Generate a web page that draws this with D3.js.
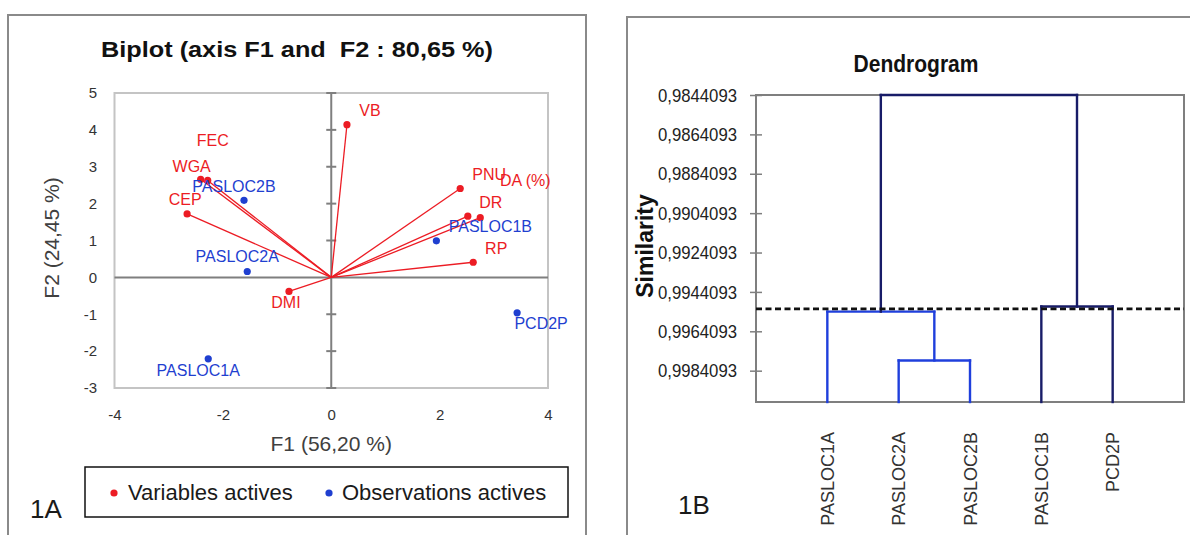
<!DOCTYPE html>
<html>
<head>
<meta charset="utf-8">
<script src="https://cdn.jsdelivr.net/npm/d3@7"></script>
<style>
  body { margin: 0; background: #fff; }
  svg { display: block; font-family: "Liberation Sans", Arial, sans-serif; }
</style>
</head>
<body>
<div id="chart"></div>
<script>
// ---- biplot data (F1 / F2 coordinates) ----
const varNames = ["VB", "FEC", "WGA", "CEP", "PNU", "DA (%)", "DR", "RP", "DMI"];
const varF1 = [0.29, -2.28, -2.41, -2.66, 2.38, 2.75, 2.52, 2.62, -0.78];
const varF2 = [4.14, 2.63, 2.66, 1.72, 2.41, 1.62, 1.66, 0.41, -0.38];

const obsNames = ["PASLOC1A", "PASLOC1B", "PASLOC2A", "PASLOC2B", "PCD2P"];
const obsF1 = [-2.27, 1.94, -1.55, -1.61, 3.43];
const obsF2 = [-2.21, 0.99, 0.16, 2.09, -0.96];

const xTicks = [-4, -2, 0, 2, 4];
const yTicks = [-3, -2, -1, 0, 1, 2, 3, 4, 5];

// ---- dendrogram data ----
const leaves = ["PASLOC1A", "PASLOC2A", "PASLOC2B", "PASLOC1B", "PCD2P"];
// node ids: 0-4 leaves, 5.. merges in order
const mergeLeft = [1, 0, 3, 6];
const mergeRight = [2, 5, 4, 7];
const mergeSimilarity = [0.99789, 0.99541, 0.99515, 0.9844093];
const mergeGroup = [0, 0, 1, 1];
const cutSimilarity = 0.99527;
const simTicks = [0.9844093, 0.9864093, 0.9884093, 0.9904093, 0.9924093, 0.9944093, 0.9964093, 0.9984093];

// label offsets (px from the dot centre), styling only
const varLabelOffset = [[23, -14], [5, -40], [-9, -13], [-2, -15], [29, -14], [45, -37], [23, -14], [23, -14], [-3, 11]];
const obsLabelOffset = [[-10, 11], [54, -15], [-10, -15], [-10, -14], [24, 10]];

const red = "#ec1c24", blue = "#1f3fd0";

const svg = d3.select("#chart").append("svg")
  .attr("width", 1190)
  .attr("height", 535);

// panel borders
svg.append("rect").attr("x", 8).attr("y", 15).attr("width", 578).attr("height", 540)
  .attr("fill", "none").attr("stroke", "#8a8a8a").attr("stroke-width", 2);
svg.append("rect").attr("x", 627).attr("y", 17).attr("width", 600).attr("height", 540)
  .attr("fill", "none").attr("stroke", "#8a8a8a").attr("stroke-width", 2);

// ================= 1A biplot =================
const x = d3.scaleLinear().domain([-4, 4]).range([114.5, 548]);
const y = d3.scaleLinear().domain([-3, 5]).range([388, 93]);

svg.append("text")
  .attr("x", 297).attr("y", 57)
  .attr("text-anchor", "middle")
  .attr("font-weight", "bold").attr("font-size", 22)
  .attr("textLength", 392).attr("lengthAdjust", "spacingAndGlyphs")
  .style("white-space", "pre")
  .attr("fill", "#111")
  .text("Biplot (axis F1 and  F2 : 80,65 %)");

svg.append("rect")
  .attr("x", x(-4)).attr("y", y(5))
  .attr("width", x(4) - x(-4)).attr("height", y(-3) - y(5))
  .attr("fill", "none").attr("stroke", "#c4c4c4").attr("stroke-width", 2);

// axes through origin
svg.append("line").attr("x1", x(-4)).attr("x2", x(4)).attr("y1", y(0)).attr("y2", y(0))
  .attr("stroke", "#7f7f7f").attr("stroke-width", 2);
svg.append("line").attr("x1", x(0)).attr("x2", x(0)).attr("y1", y(5)).attr("y2", y(-3))
  .attr("stroke", "#7f7f7f").attr("stroke-width", 2);
svg.selectAll(".ytickmark").data(yTicks.filter(d => d !== 0)).enter().append("line")
  .attr("x1", x(0) - 5).attr("x2", x(0) + 5)
  .attr("y1", d => y(d)).attr("y2", d => y(d))
  .attr("stroke", "#7f7f7f").attr("stroke-width", 2);

// tick labels
const yAxis = svg.append("g")
  .attr("transform", "translate(" + (x(-4) - 14.5) + ",0)")
  .call(d3.axisLeft(y).tickValues(yTicks).tickSize(0).tickFormat(d => String(d)));
yAxis.select(".domain").remove();
yAxis.selectAll("text").attr("font-size", 15).attr("fill", "#333").attr("font-family", "Liberation Sans, Arial");

const xAxis = svg.append("g")
  .attr("transform", "translate(0," + (y(-3) + 18) + ")")
  .call(d3.axisBottom(x).tickValues(xTicks).tickSize(0).tickFormat(d => String(d)));
xAxis.select(".domain").remove();
xAxis.selectAll("text").attr("font-size", 15).attr("fill", "#333").attr("font-family", "Liberation Sans, Arial");

svg.append("text")
  .attr("x", x(0)).attr("y", 451)
  .attr("text-anchor", "middle").attr("font-size", 21).attr("fill", "#404040")
  .text("F1 (56,20 %)");
svg.append("text")
  .attr("transform", "translate(59,238) rotate(-90)")
  .attr("text-anchor", "middle").attr("font-size", 21).attr("fill", "#404040")
  .text("F2 (24,45 %)");

// variable vectors
const vars = varNames.map((n, i) => ({ name: n, f1: varF1[i], f2: varF2[i], off: varLabelOffset[i] }));
const obs = obsNames.map((n, i) => ({ name: n, f1: obsF1[i], f2: obsF2[i], off: obsLabelOffset[i] }));

svg.selectAll(".vec").data(vars).enter().append("line")
  .attr("x1", x(0)).attr("y1", y(0))
  .attr("x2", d => x(d.f1)).attr("y2", d => y(d.f2))
  .attr("stroke", red).attr("stroke-width", 1.3);

svg.selectAll(".vdot").data(vars).enter().append("circle")
  .attr("cx", d => x(d.f1)).attr("cy", d => y(d.f2)).attr("r", 3.6)
  .attr("fill", red);

svg.selectAll(".odot").data(obs).enter().append("circle")
  .attr("cx", d => x(d.f1)).attr("cy", d => y(d.f2)).attr("r", 3.6)
  .attr("fill", blue);

svg.selectAll(".vlab").data(vars).enter().append("text")
  .attr("x", d => x(d.f1) + d.off[0]).attr("y", d => y(d.f2) + d.off[1])
  .attr("dy", "0.36em").attr("text-anchor", "middle")
  .attr("font-size", 16).attr("fill", red)
  .text(d => d.name);

svg.selectAll(".olab").data(obs).enter().append("text")
  .attr("x", d => x(d.f1) + d.off[0]).attr("y", d => y(d.f2) + d.off[1])
  .attr("dy", "0.36em").attr("text-anchor", "middle")
  .attr("font-size", 16).attr("fill", blue)
  .text(d => d.name);

// legend
svg.append("rect").attr("x", 85).attr("y", 467).attr("width", 483).attr("height", 50)
  .attr("fill", "#fff").attr("stroke", "#111").attr("stroke-width", 1.5);
svg.append("circle").attr("cx", 114).attr("cy", 493).attr("r", 3.6).attr("fill", red);
svg.append("text").attr("x", 128).attr("y", 500).attr("font-size", 22).attr("fill", "#1a1a1a")
  .text("Variables actives");
svg.append("circle").attr("cx", 329).attr("cy", 493).attr("r", 3.6).attr("fill", blue);
svg.append("text").attr("x", 342).attr("y", 500).attr("font-size", 22).attr("fill", "#1a1a1a")
  .text("Observations actives");

svg.append("text").attr("x", 30).attr("y", 518).attr("font-size", 26).attr("fill", "#1a1a1a")
  .text("1A");

// ================= 1B dendrogram =================
const dx = d3.scalePoint().domain(leaves).range([756, 1184]).padding(1);
const dy = d3.scaleLinear().domain([0.9844093, 1.0]).range([95, 402]);
const groupColor = ["#1f3fdc", "#181c68"];

svg.append("text")
  .attr("x", 916).attr("y", 72)
  .attr("text-anchor", "middle").attr("font-weight", "bold").attr("font-size", 23)
  .attr("textLength", 125).attr("lengthAdjust", "spacingAndGlyphs")
  .attr("fill", "#111")
  .text("Dendrogram");

svg.append("text")
  .attr("transform", "translate(653,246) rotate(-90)")
  .attr("text-anchor", "middle").attr("font-weight", "bold").attr("font-size", 23)
  .attr("fill", "#111")
  .text("Similarity");

svg.append("rect")
  .attr("x", 756).attr("y", dy(0.9844093))
  .attr("width", 1184 - 756).attr("height", dy(1.0) - dy(0.9844093))
  .attr("fill", "none").attr("stroke", "#7f7f7f").attr("stroke-width", 2);

const sAxis = svg.append("g")
  .attr("transform", "translate(756,0)")
  .call(d3.axisLeft(dy).tickValues(simTicks).tickSizeInner(6).tickSizeOuter(0)
    .tickPadding(13)
    .tickFormat(d => d3.format(".7f")(d).replace(".", ",")));
sAxis.select(".domain").remove();
sAxis.selectAll(".tick line").attr("x1", 6).attr("x2", -6).attr("stroke", "#7f7f7f").attr("stroke-width", 1.5);
sAxis.selectAll("text").attr("font-size", 19).attr("fill", "#222")
  .attr("font-family", "Liberation Sans, Arial")
  .attr("textLength", 79).attr("lengthAdjust", "spacingAndGlyphs");

// node positions
const nodeX = leaves.map(l => dx(l));
const nodeSim = leaves.map(() => 1.0);
mergeLeft.forEach((l, i) => {
  nodeX.push((nodeX[l] + nodeX[mergeRight[i]]) / 2);
  nodeSim.push(mergeSimilarity[i]);
});

const links = [];
mergeLeft.forEach((l, i) => {
  const r = mergeRight[i], s = mergeSimilarity[i];
  const c = groupColor[mergeGroup[i]];
  links.push({ x1: nodeX[l], y1: nodeSim[l], x2: nodeX[l], y2: s, c: c });
  links.push({ x1: nodeX[r], y1: nodeSim[r], x2: nodeX[r], y2: s, c: c });
  links.push({ x1: nodeX[l], y1: s, x2: nodeX[r], y2: s, c: c });
});

svg.selectAll(".dlink").data(links).enter().append("line")
  .attr("x1", d => d.x1).attr("x2", d => d.x2)
  .attr("y1", d => dy(d.y1)).attr("y2", d => dy(d.y2))
  .attr("stroke", d => d.c).attr("stroke-width", 2.4)
  .attr("stroke-linecap", "square");

svg.append("line")
  .attr("x1", 756).attr("x2", 1184)
  .attr("y1", dy(cutSimilarity)).attr("y2", dy(cutSimilarity))
  .attr("stroke", "#111").attr("stroke-width", 2.6)
  .attr("stroke-dasharray", "6,3.5");

svg.selectAll(".leaf").data(leaves).enter().append("text")
  .attr("transform", d => "translate(" + (dx(d) + 6.5) + ",432) rotate(-90)")
  .attr("text-anchor", "end").attr("font-size", 18).attr("fill", "#333")
  .text(d => d);

svg.append("text").attr("x", 678).attr("y", 514).attr("font-size", 26).attr("fill", "#1a1a1a")
  .text("1B");
</script>
</body>
</html>
